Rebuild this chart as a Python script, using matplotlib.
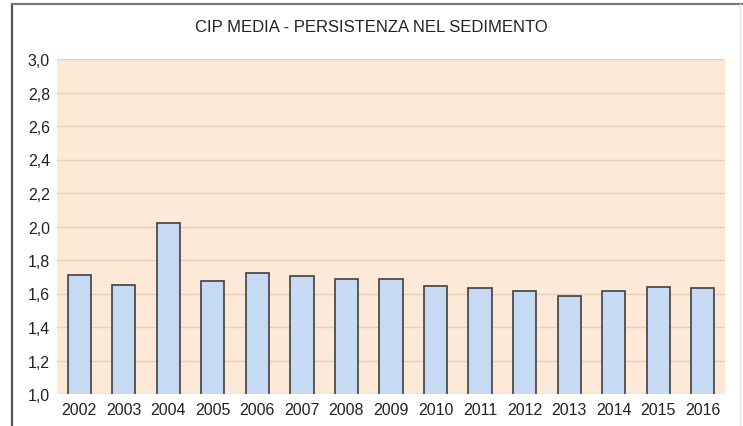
import matplotlib.pyplot as plt
from matplotlib.lines import Line2D

plt.rcParams['font.family'] = ['Liberation Sans', 'DejaVu Sans']

years = ['2002', '2003', '2004', '2005', '2006', '2007', '2008', '2009',
         '2010', '2011', '2012', '2013', '2014', '2015', '2016']
cip = [1.712, 1.651, 2.023, 1.677, 1.720, 1.704, 1.687, 1.687,
       1.645, 1.631, 1.615, 1.585, 1.615, 1.641, 1.635]
yticks = [1.0, 1.2, 1.4, 1.6, 1.8, 2.0, 2.2, 2.4, 2.6, 2.8, 3.0]
ylabels = [f'{v:.1f}'.replace('.', ',') for v in yticks]

W, H = 743, 427
fig = plt.figure(figsize=(W / 100, H / 100), dpi=100)
ax = fig.add_axes([57 / W, 1 - 395 / H, 668 / W, 335 / H])

# chart border: dark top and left, faint right
fig.lines.append(Line2D([12 / W, 12 / W], [0, 1 - 5 / H], transform=fig.transFigure,
                        color='#555555', linewidth=1.6))
fig.lines.append(Line2D([12 / W, 1], [1 - 5 / H, 1 - 5 / H], transform=fig.transFigure,
                        color='#777777', linewidth=1.6))
fig.lines.append(Line2D([740 / W, 740 / W], [0, 1 - 5 / H], transform=fig.transFigure,
                        color='#e4e4e4', linewidth=1.0))

ax.set_facecolor('#fce9d7')
ax.bar(range(len(years)), cip, width=0.52, bottom=0,
       color='#c6daf3', edgecolor='#3f3f3f', linewidth=1.2, zorder=3)
ax.set_xlim(-0.5, len(years) - 0.5)
ax.set_ylim(1.0, 3.0)
ax.set_yticks(yticks)
ax.set_yticklabels(ylabels)
ax.set_xticks(range(len(years)))
ax.set_xticklabels(years)
ax.yaxis.grid(True, color='#e9cfb7', linewidth=1.0, zorder=0)
ax.tick_params(length=0, labelsize=11.5, colors='#222222')
ax.tick_params(axis='x', pad=6)
ax.tick_params(axis='y', pad=5)
for s in ax.spines.values():
    s.set_visible(False)

fig.text(0.5, 1 - 28 / H, 'CIP MEDIA - PERSISTENZA NEL SEDIMENTO',
         ha='center', va='center', fontsize=12, color='#222222')

fig.savefig('out.png', dpi=100)
